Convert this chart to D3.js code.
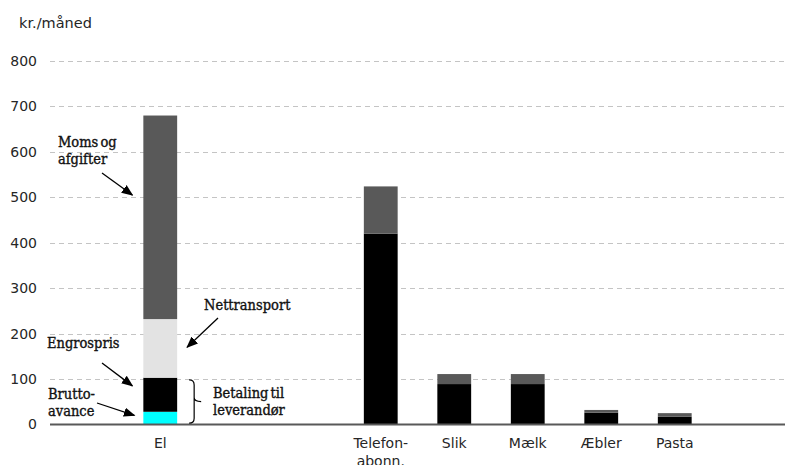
<!DOCTYPE html>
<html>
<head>
<meta charset="utf-8">
<script src="https://cdn.jsdelivr.net/npm/d3@7"></script>
<style>
  body { margin: 0; background: #fff; }
  .tick text { font-family: "DejaVu Sans", Verdana, sans-serif; font-size: 14px; fill: #262626; }
  .note { font-family: "DejaVu Serif Condensed", "DejaVu Serif", serif; font-size: 14.5px; fill: #111; stroke: #111; stroke-width: 0.35px; word-spacing: -2px; }
</style>
</head>
<body>
<div id="chart"></div>
<script>
// categories and the empty slots between them on the x axis
var categories = ["El", "Telefon-abonn.", "Slik", "Mælk", "Æbler", "Pasta"];
var slots = ["_0", "El", "_2", "_3", "Telefon-abonn.", "Slik", "Mælk", "Æbler", "Pasta", "_9"];

// kr./måned per component
var bruttoavance = [28, 0, 0, 0, 0, 0];
var engrospris   = [75, 420, 89, 89, 26, 17];
var nettransport = [129, 0, 0, 0, 0, 0];
var momsAfgifter = [448, 104, 22, 22, 6, 8];

var yTicks = [0, 100, 200, 300, 400, 500, 600, 700, 800];

var keys = ["brutto", "engros", "net", "moms"];
var colors = { brutto: "#00ffff", engros: "#000000", net: "#e3e3e3", moms: "#595959" };

var rows = categories.map(function(c, i) {
  return { cat: c, brutto: bruttoavance[i], engros: engrospris[i], net: nettransport[i], moms: momsAfgifter[i] };
});

var w = 799, h = 465;

var x = d3.scaleBand().domain(slots).range([50, 785]).paddingInner(0.54).paddingOuter(0.27);
var y = d3.scaleLinear().domain([0, 800]).range([424.5, 61]);

var svg = d3.select("#chart").append("svg")
  .attr("width", w).attr("height", h);

// unit label
svg.append("text")
  .attr("x", 19).attr("y", 28)
  .style("font-family", "DejaVu Sans, Verdana, sans-serif")
  .style("font-size", "14.5px")
  .style("fill", "#262626")
  .text("kr./måned");

// gridlines
svg.append("g").selectAll("line")
  .data(yTicks.filter(function(d) { return d > 0; }))
  .enter().append("line")
  .attr("x1", 50).attr("x2", 785)
  .attr("y1", function(d) { return Math.round(y(d)) + 0.5; })
  .attr("y2", function(d) { return Math.round(y(d)) + 0.5; })
  .style("stroke", "#c4c4c4")
  .style("stroke-width", 1)
  .style("stroke-dasharray", "5,4");

// y axis labels
var yAxis = svg.append("g")
  .attr("transform", "translate(50,0)")
  .call(d3.axisLeft(y).tickValues(yTicks).tickSize(0).tickPadding(13));
yAxis.select(".domain").remove();

// stacked bars
var series = d3.stack().keys(keys)(rows);
svg.append("g").selectAll("g")
  .data(series)
  .enter().append("g")
  .style("fill", function(d) { return colors[d.key]; })
  .selectAll("rect")
  .data(function(d) { return d.filter(function(p) { return p[1] > p[0]; }); })
  .enter().append("rect")
  .attr("x", function(d) { return x(d.data.cat); })
  .attr("width", x.bandwidth())
  .attr("y", function(d) { return y(d[1]); })
  .attr("height", function(d) { return y(d[0]) - y(d[1]); });

// baseline
svg.append("line")
  .attr("x1", 50).attr("x2", 785)
  .attr("y1", y(0)).attr("y2", y(0))
  .style("stroke", "#595959")
  .style("stroke-width", 2);

// x axis labels
var xAxis = svg.append("g")
  .attr("transform", "translate(0," + y(0) + ")")
  .call(d3.axisBottom(x).tickSize(0).tickPadding(14)
    .tickFormat(function(d) { return d.charAt(0) === "_" ? "" : d; }));
xAxis.select(".domain").remove();
xAxis.selectAll(".tick text").each(function(d) {
  var t = d3.select(this);
  var i = d.indexOf("-");
  if (i > 0 && i < d.length - 1) {
    t.text(null);
    t.append("tspan").attr("x", 0).text(d.slice(0, i + 1));
    t.append("tspan").attr("x", 0).attr("dy", "1.22em").text(d.slice(i + 1));
  }
});

// annotations for the El bar
var defs = svg.append("defs");
defs.append("marker")
  .attr("id", "arrow")
  .attr("viewBox", "0 0 10 10")
  .attr("refX", 9).attr("refY", 5)
  .attr("markerWidth", 9).attr("markerHeight", 9)
  .attr("orient", "auto")
  .append("path")
  .attr("d", "M0,1L10,5L0,9Z")
  .style("fill", "#000");

var elLeft = x("El"), elRight = x("El") + x.bandwidth();

var notes = [
  { lines: ["Moms og", "afgifter"], x: 58, y: 147, from: [102, 173], to: [elLeft - 11, y(505)] },
  { lines: ["Nettransport"], x: 204, y: 310, from: [218, 318], to: [elRight + 10, y(170)] },
  { lines: ["Engrospris"], x: 47, y: 348, from: [102, 363], to: [elLeft - 11, y(85)] },
  { lines: ["Brutto-", "avance"], x: 48, y: 399, from: [97, 403], to: [elLeft - 9, y(20)] },
  { lines: ["Betaling til", "leverandør"], x: 213, y: 398 }
];

notes.forEach(function(n) {
  var t = svg.append("text").attr("class", "note").attr("x", n.x).attr("y", n.y);
  n.lines.forEach(function(l, i) {
    t.append("tspan").attr("x", n.x).attr("dy", i === 0 ? 0 : 16.5).text(l);
  });
  if (n.from) {
    svg.append("line")
      .attr("x1", n.from[0]).attr("y1", n.from[1])
      .attr("x2", n.to[0]).attr("y2", n.to[1])
      .style("stroke", "#000")
      .style("stroke-width", 1.3)
      .attr("marker-end", "url(#arrow)");
  }
});

// brace around Engrospris + Bruttoavance
var bx = elRight + 12, bTop = y(98), bBot = y(3), bMid = (bTop + bBot) / 2;
svg.append("path")
  .attr("d", "M" + bx + "," + bTop +
    " Q" + (bx + 5) + "," + bTop + " " + (bx + 5) + "," + (bTop + 5) +
    " L" + (bx + 5) + "," + (bMid - 4) +
    " Q" + (bx + 5) + "," + bMid + " " + (bx + 12) + "," + bMid +
    " M" + (bx + 5) + "," + (bMid - 4) +
    " Q" + (bx + 5) + "," + bMid + " " + (bx + 5) + "," + (bMid + 4) +
    " L" + (bx + 5) + "," + (bBot - 5) +
    " Q" + (bx + 5) + "," + bBot + " " + bx + "," + bBot)
  .style("fill", "none")
  .style("stroke", "#000")
  .style("stroke-width", 1.2);
</script>
</body>
</html>
